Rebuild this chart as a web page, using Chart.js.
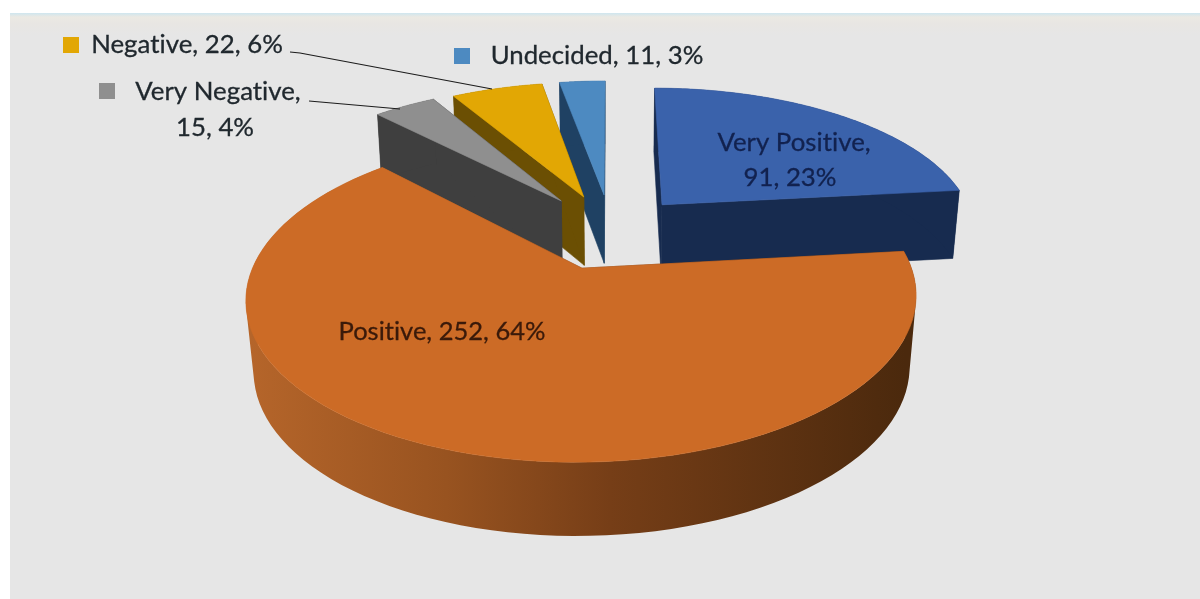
<!DOCTYPE html>
<html lang="en">
<head>
    <meta charset="UTF-8">
    <title>Attitude Survey</title>
    <script src="https://cdn.jsdelivr.net/npm/chart.js"></script>
    <style>
        html, body { margin: 0; padding: 0; background: #fff; overflow: hidden; }
        .panel {
            position: absolute; left: 10px; top: 13px; right: 0; bottom: 0;
            background: linear-gradient(#cfe6ef 0, #ebe9e3 4px, #e8e6e3 11px, #e6e6e6 22px);
        }
        canvas { position: absolute; left: 0; top: 0; }
    </style>
</head>
<body>
    <div class="panel"></div>
    <canvas id="pieChart" width="1200" height="599"></canvas>

    <script>
        const categories = ['Very Positive', 'Positive', 'Very Negative', 'Negative', 'Undecided'];
        const counts = [91, 252, 15, 22, 11];
        const percents = [23, 64, 4, 6, 3];

        const topColors = ['#3a62ab', '#cc6b26', '#8f8f8f', '#e2a704', '#4d8ac1'];
        const sideColors = ['#172b4f', '#7a4017', '#3f3f3f', '#6b4f03', '#1f4163'];
        const explode = [75, 78, 81, 78, 78];

        // back to front, so nearer slices cover the ones behind
        const paintOrder = [0, 4, 3, 2, 1];

        // perspective of the pie plane; h is 0 on the top face and 1 on the bottom face
        const cam = { x0: 611, y0: 231, a: 315.4, b: 145.4, k: 0.1746, mx: 0.02, my: 0.05, d: 73 };
        const offsetUnit = 300;

        function project(u, v, h) {
            const base = 1 - cam.k * v;
            return {
                x: cam.x0 + cam.a * u / (base + cam.mx * h),
                y: cam.y0 + (cam.b * v + cam.d * h) / (base + cam.my * h)
            };
        }

        function slicePoints(arc) {
            const p = arc.getProps(['startAngle', 'endAngle']);
            const mid = (p.startAngle + p.endAngle) / 2;
            const shift = arc.options.offset / offsetUnit;
            const cu = Math.cos(mid) * shift;
            const cv = Math.sin(mid) * shift;
            const steps = 96;
            const rim = [];
            for (let i = 0; i <= steps; i++) {
                const t = p.startAngle + (p.endAngle - p.startAngle) * i / steps;
                rim.push([cu + Math.cos(t), cv + Math.sin(t)]);
            }
            return { cu, cv, rim };
        }

        function tracePoly(ctx, pts) {
            pts.forEach((p, i) => i ? ctx.lineTo(p.x, p.y) : ctx.moveTo(p.x, p.y));
            ctx.closePath();
        }

        function fillPoly(ctx, pts, fill) {
            ctx.beginPath();
            tracePoly(ctx, pts);
            ctx.fillStyle = fill;
            ctx.strokeStyle = fill;
            ctx.lineWidth = 0.6;
            ctx.fill();
            ctx.stroke();
        }

        function signedArea(pts) {
            let sum = 0;
            pts.forEach((p, i) => {
                const q = pts[(i + 1) % pts.length];
                sum += p.x * q.y - q.x * p.y;
            });
            return sum;
        }

        // curved wall as one path: every quad wound the same way, so the front
        // and back parts never cancel and no seams show between steps
        function fillWall(ctx, rim, fill) {
            ctx.beginPath();
            for (let n = 0; n < rim.length - 1; n++) {
                const a = rim[n];
                const b = rim[n + 1];
                const quad = [project(a[0], a[1], 0), project(b[0], b[1], 0), project(b[0], b[1], 1), project(a[0], a[1], 1)];
                if (signedArea(quad) < 0) quad.reverse();
                tracePoly(ctx, quad);
            }
            ctx.fillStyle = fill;
            ctx.fill('nonzero');
        }

        function drawSlice(ctx, arc, i) {
            const { cu, cv, rim } = slicePoints(arc);
            const first = rim[0];
            const last = rim[rim.length - 1];

            let side = sideColors[i];
            if (categories[i] === 'Positive') {
                side = ctx.createLinearGradient(250, 0, 905, 0);
                side.addColorStop(0, '#b5652a');
                side.addColorStop(0.3, '#985320');
                side.addColorStop(0.55, '#763e17');
                side.addColorStop(1, '#4b290d');
            }

            // radial walls
            [first, last].forEach(e => {
                fillPoly(ctx, [project(cu, cv, 0), project(e[0], e[1], 0), project(e[0], e[1], 1), project(cu, cv, 1)], side);
            });

            fillWall(ctx, rim, side);

            // top face
            const upper = rim.map(r => project(r[0], r[1], 0));
            fillPoly(ctx, [project(cu, cv, 0)].concat(upper), topColors[i]);
        }

        const labelFont = '"Lato", sans-serif';
        const labelSpots = [
            { lines: [[794, 143], [790, 178]], color: '#12224f', size: 25.8 },
            { lines: [[442, 332]], color: '#3a1a0a', size: 25.5 },
            { lines: [[218, 92], [215, 128]], color: '#20282e', size: 25.8, key: [99, 83] },
            { lines: [[187, 45]], color: '#20282e', size: 25.8, key: [63, 37] },
            { lines: [[597, 56]], color: '#20282e', size: 25.8, key: [454, 48] }
        ];
        const leaders = [
            [[290, 52], [300, 53], [492, 89]],
            [[309, 101], [400, 109]]
        ];

        const pie3d = {
            id: 'pie3d',
            beforeDatasetsDraw(chart) {
                const ctx = chart.ctx;
                const arcs = chart.getDatasetMeta(0).data;
                paintOrder.forEach(i => drawSlice(ctx, arcs[i], i));
                return false;
            },
            afterDraw(chart) {
                const ctx = chart.ctx;
                ctx.save();
                ctx.strokeStyle = '#1c1c1c';
                ctx.lineWidth = 1.2;
                leaders.forEach(line => {
                    ctx.beginPath();
                    line.forEach((p, i) => i ? ctx.lineTo(p[0], p[1]) : ctx.moveTo(p[0], p[1]));
                    ctx.stroke();
                });

                ctx.textAlign = 'center';
                ctx.textBaseline = 'middle';
                ctx.letterSpacing = '0.01px'; // keeps the ti pair from joining up
                ctx.lineWidth = 0.3;
                categories.forEach((name, i) => {
                    const spot = labelSpots[i];
                    const whole = name + ', ' + counts[i] + ', ' + percents[i] + '%';
                    const text = spot.lines.length > 1
                        ? [name + ',', counts[i] + ', ' + percents[i] + '%']
                        : [whole];
                    ctx.font = spot.size + 'px ' + labelFont;
                    ctx.fillStyle = spot.color;
                    ctx.strokeStyle = spot.color;
                    text.forEach((t, n) => {
                        ctx.fillText(t, spot.lines[n][0], spot.lines[n][1]);
                        ctx.strokeText(t, spot.lines[n][0], spot.lines[n][1]);
                    });
                    if (spot.key) {
                        ctx.fillStyle = topColors[i];
                        ctx.fillRect(spot.key[0], spot.key[1], 16, 16);
                    }
                });
                ctx.restore();
            }
        };

        new Chart(document.getElementById('pieChart'), {
            type: 'pie',
            data: {
                labels: categories,
                datasets: [{
                    data: counts,
                    backgroundColor: topColors,
                    offset: explode,
                    borderWidth: 0
                }]
            },
            options: {
                responsive: false,
                animation: false,
                rotation: 0,
                plugins: {
                    legend: { display: false },
                    tooltip: { enabled: false }
                }
            },
            plugins: [pie3d]
        });
    </script>
</body>
</html>
